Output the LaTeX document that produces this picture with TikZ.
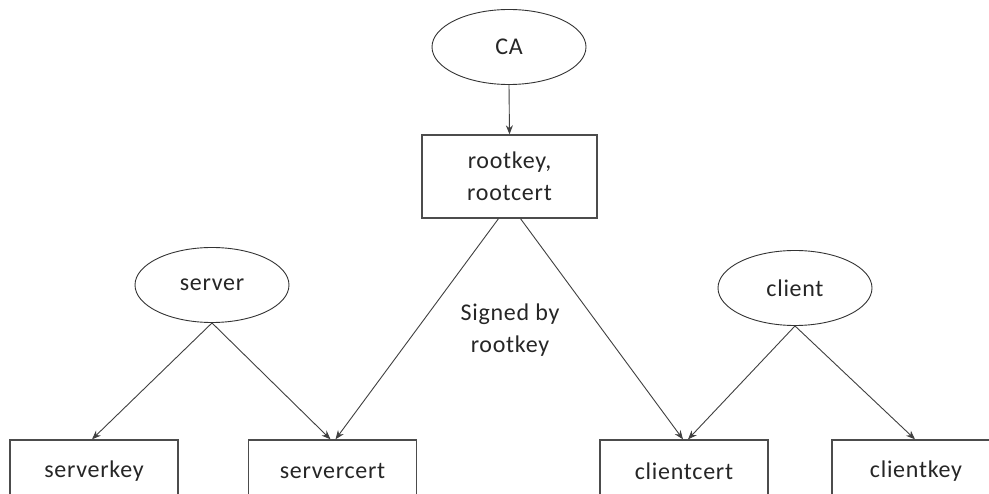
\documentclass[tikz,border=0pt]{standalone}
\usepackage{fontspec}
\setmainfont{Carlito}[LetterSpace=3]
\usetikzlibrary{shapes.geometric,arrows.meta}
\begin{document}
\begin{tikzpicture}[x=1pt,y=-1pt,
  every node/.style={font=\fontsize{24}{32}\selectfont, text=black!85},
  ell/.style={draw=black!80, line width=0.9pt, ellipse, minimum width=154pt, minimum height=75pt, inner sep=0pt},
  keybox/.style={draw=black!70, line width=1.3pt, rectangle, minimum width=168pt, minimum height=62pt, inner sep=0pt},
  conn/.style={draw=black!75, line width=0.9pt, -{Stealth[length=9pt,width=7pt]}}
]
\useasboundingbox (0,0) rectangle (989,494);
\fill[white] (0,0) rectangle (989,494);
\begin{scope}
\clip (0,0) rectangle (989,494);
\node[ell] (ca) at (509,47) {CA};
\node[keybox, minimum width=175pt, minimum height=83pt, align=center] (root) at (509.5,176.5) {rootkey,\\rootcert};
\node[ell] (server) at (212,285) {server};
\node[ell] (client) at (795,288) {client};
\node[keybox] (skey) at (94,471) {serverkey};
\node[keybox] (scert) at (332.5,471) {servercert};
\node[keybox] (ccert) at (684,471) {clientcert};
\node[keybox] (ckey) at (916,471) {clientkey};
\node[align=center] (signed) at (510,330) {Signed by\\rootkey};
\draw[conn] (ca.south) -- (root.north);
\draw[conn] (server.south) -- ([xshift=-2pt]skey.north);
\draw[conn] (server.south) -- ([xshift=-2pt]scert.north);
\draw[conn] ([xshift=-11pt]root.south) -- ([xshift=3pt]scert.north);
\draw[conn] ([xshift=11pt]root.south) -- ([xshift=-1pt]ccert.north);
\draw[conn] (client.south) -- ([xshift=4pt]ccert.north);
\draw[conn] (client.south) -- ([xshift=-1pt]ckey.north);
\end{scope}
\end{tikzpicture}
\end{document}
